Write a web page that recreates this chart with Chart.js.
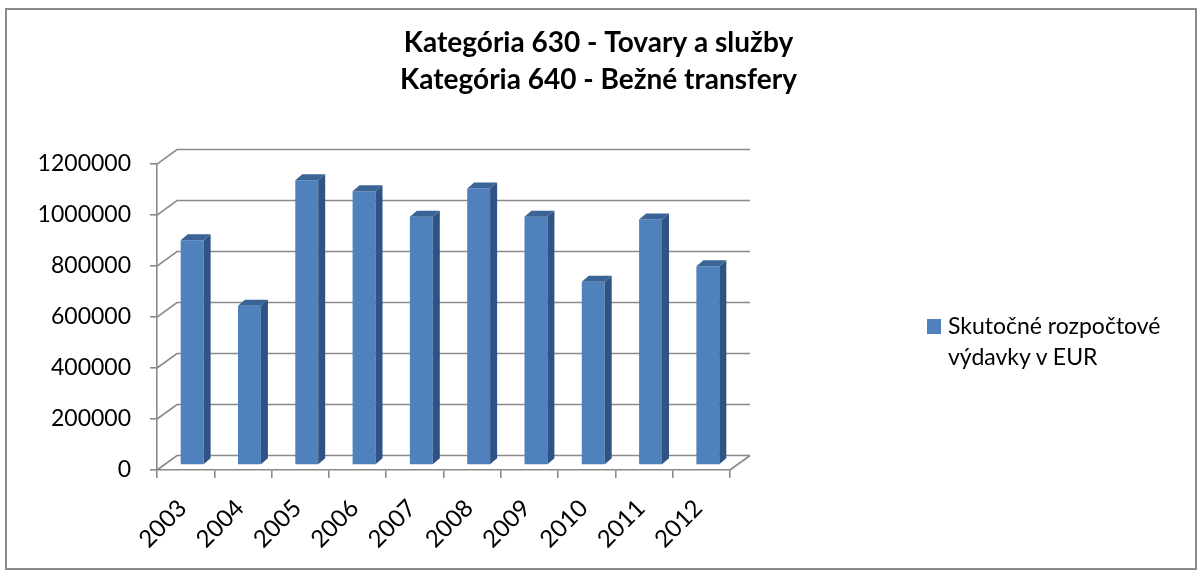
<!DOCTYPE html>
<html><head><meta charset="utf-8">
<script src="https://cdn.jsdelivr.net/npm/chart.js@4.4.1/dist/chart.umd.min.js"></script>
<style>
html,body{margin:0;padding:0;background:#fff;}
#wrap{position:relative;width:1197px;height:570px;}
#c{position:absolute;left:0;top:0;}
#sw{position:absolute;left:927px;top:319px;width:14px;height:15px;background:#4f81bd;}
#lt{position:absolute;left:948px;top:310px;font-family:Lato,sans-serif;font-size:23px;line-height:31px;color:#000;white-space:nowrap;}
</style></head><body>
<div id="wrap">
<canvas id="c" width="1197" height="570"></canvas>
<div id="sw"></div>
<div id="lt">Skutočné rozpočtové<br>výdavky v EUR</div>
</div>
<script>
const titleLines = ['Kategória 630 - Tovary a služby', 'Kategória 640 - Bežné transfery'];
const years = ['2003','2004','2005','2006','2007','2008','2009','2010','2011','2012'];
const expenditures = [882000, 625000, 1117000, 1074000, 974000, 1085000, 974000, 719000, 963000, 780000];
const seriesName = 'Skutočné rozpočtové výdavky v EUR';
const yMin = 0, yMax = 1200000, yStep = 200000;

const GRID = '#8a8a8a';
const DX = 20, DY = -14.5;      // back-wall offset
const BX = 6.5, BY = -5;        // bar depth position
const SX = 7, SY = -6;          // bar depth size

const excel3d = {
  id: 'excel3d',
  beforeDatasetsDraw(chart) {
    const {ctx, chartArea: a, scales: {y}} = chart;
    ctx.save();
    ctx.strokeStyle = GRID;
    ctx.lineWidth = 1.6;
    for (let v = yMin; v <= yMax; v += yStep) {
      const py = y.getPixelForValue(v);
      ctx.beginPath();
      ctx.moveTo(a.left, py);
      ctx.lineTo(a.left + DX, py + DY);
      ctx.lineTo(a.right + DX, py + DY);
      ctx.stroke();
    }
    const p0 = y.getPixelForValue(yMin);
    ctx.beginPath();
    ctx.moveTo(a.right, p0);
    ctx.lineTo(a.right + DX, p0 + DY);
    ctx.stroke();
    ctx.restore();
    ctx.save();
    ctx.translate(BX, BY);
  },
  afterDatasetsDraw(chart) {
    const ctx = chart.ctx;
    const meta = chart.getDatasetMeta(0);
    meta.data.forEach(bar => {
      const w = bar.width;
      const l = bar.x - w / 2, r = bar.x + w / 2, t = bar.y, b = bar.base;
      ctx.fillStyle = '#2f5384';
      ctx.beginPath();
      ctx.moveTo(r, t); ctx.lineTo(r + SX, t + SY); ctx.lineTo(r + SX, b + SY); ctx.lineTo(r, b);
      ctx.closePath(); ctx.fill();
      ctx.fillStyle = '#3a6496';
      ctx.beginPath();
      ctx.moveTo(l, t); ctx.lineTo(l + SX, t + SY); ctx.lineTo(r + SX, t + SY); ctx.lineTo(r, t);
      ctx.closePath(); ctx.fill();
    });
    ctx.restore();
  },
  afterDraw(chart) {
    const ctx = chart.ctx;
    ctx.save();
    ctx.strokeStyle = '#8a8a8a';
    ctx.lineWidth = 2;
    ctx.strokeRect(6, 9, 1190, 560);
    ctx.restore();
  }
};

new Chart(document.getElementById('c'), {
  type: 'bar',
  data: {
    labels: years,
    datasets: [{
      label: seriesName,
      data: expenditures,
      backgroundColor: '#4f81bd',
      borderWidth: 0,
      barPercentage: 0.4,
      categoryPercentage: 1.0,
      clip: false
    }]
  },
  options: {
    responsive: false,
    animation: false,
    events: [],
    layout: { padding: 0 },
    plugins: {
      legend: { display: false },
      tooltip: { enabled: false },
      title: {
        display: true,
        text: titleLines,
        color: '#000',
        font: { family: 'Lato', size: 28, weight: 'bold', lineHeight: 1.31 },
        padding: { top: 25, bottom: 65.7 }
      }
    },
    scales: {
      x: {
        afterFit(s) { s.height = 100; },
        border: { display: true, color: GRID, width: 1.6 },
        grid: { display: true, drawOnChartArea: false, drawTicks: true, tickLength: 8, color: GRID, lineWidth: 1.6 },
        ticks: { color: '#000', font: { family: 'Lato', size: 24 }, minRotation: 45, maxRotation: 45, padding: 16, labelOffset: -3, autoSkip: false }
      },
      y: {
        min: yMin, max: yMax,
        afterFit(s) { s.width = 157; },
        border: { display: true, color: GRID, width: 1.6 },
        grid: { display: true, drawOnChartArea: false, drawTicks: true, tickLength: 7, color: GRID, lineWidth: 1.6 },
        ticks: { stepSize: yStep, color: '#000', font: { family: 'Lato', size: 23 }, padding: 19, callback: v => String(v) }
      },
      legendSpace: {
        position: 'right',
        afterFit(s) { s.width = 467; },
        border: { display: false },
        grid: { display: false },
        ticks: { display: false }
      }
    }
  },
  plugins: [excel3d]
});
</script>
</body></html>
